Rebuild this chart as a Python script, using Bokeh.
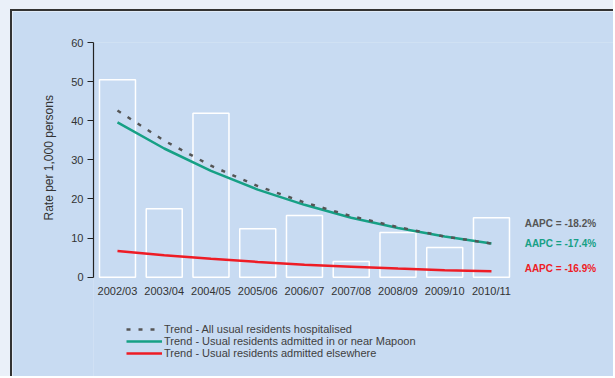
import numpy as np
from bokeh.plotting import figure
from bokeh.layouts import column
from bokeh.models import Range1d, FixedTicker, Legend, LegendItem, Label, Title
from bokeh.embed import file_html
from bokeh.resources import INLINE

categories = ["2002/03", "2003/04", "2004/05", "2005/06", "2006/07",
              "2007/08", "2008/09", "2009/10", "2010/11"]
rates = [50.5, 17.5, 41.9, 12.4, 15.8, 4.0, 11.4, 7.6, 15.2]
trend_all = [42.6, 34.9, 28.5, 23.3, 19.1, 15.6, 12.8, 10.4, 8.6]
trend_near = [39.6, 32.9, 27.2, 22.4, 18.5, 15.2, 12.6, 10.4, 8.6]
trend_else = [6.7, 5.6, 4.7, 3.9, 3.2, 2.7, 2.2, 1.8, 1.5]
aapc_labels = ["AAPC = -18.2%", "AAPC = -17.4%", "AAPC = -16.9%"]
aapc_y = [13.7, 8.5, 2.1]
legend_labels = ["Trend - All usual residents hospitalised",
                 "Trend - Usual residents admitted in or near Mapoon",
                 "Trend - Usual residents admitted elsewhere"]
y_title = "Rate per 1,000 persons"
y_ticks = [0, 10, 20, 30, 40, 50, 60]

x = list(range(len(categories)))

PANEL = "#C8DBF2"
GREEN = "#16A085"
RED = "#EE1C25"
GREY = "#555555"
FONT = "Liberation Sans"

p = figure(width=603, height=367, output_backend="svg", toolbar_location=None,
           x_range=Range1d(-0.513, 10.653), y_range=Range1d(-25.9, 60),
           min_border_left=81, min_border_right=0, min_border_top=31,
           min_border_bottom=0)
p.styles = {"margin-left": "10px", "margin-top": "9px",
            "border-left": "2px solid #333", "border-top": "2px solid #333"}
p.background_fill_color = PANEL
p.border_fill_color = PANEL
p.outline_line_color = None
p.grid.visible = False

p.vbar(x=x, top=rates, bottom=0, width=0.77, fill_color=None,
       line_color="white", line_width=1.5)
r_near = p.line(x, trend_near, line_color=GREEN, line_width=2.5)
r_else = p.line(x, trend_else, line_color=RED, line_width=2.5)
r_all = p.line(x, trend_all, line_color=GREY, line_width=2.5, line_dash="4 8")

# x axis fixed at y = 0
p.xaxis.fixed_location = 0
p.xaxis.ticker = FixedTicker(ticks=x)
p.xaxis.major_label_overrides = {i: c for i, c in zip(x, categories)}
p.xaxis.axis_line_color = None
p.xaxis.major_tick_line_color = None
p.xaxis.minor_tick_line_color = None
p.xaxis.major_tick_out = 0
p.xaxis.major_label_standoff = 8
p.xaxis.major_label_text_font = FONT
p.xaxis.major_label_text_font_size = "11px"
p.xaxis.major_label_text_color = "#333333"

p.yaxis.bounds = (0, 60)
p.yaxis.ticker = FixedTicker(ticks=y_ticks)
p.yaxis.axis_line_color = "#222222"
p.yaxis.axis_line_width = 1.2
p.yaxis.major_tick_line_color = "#222222"
p.yaxis.major_tick_out = 6
p.yaxis.major_tick_in = 0
p.yaxis.minor_tick_line_color = None
p.yaxis.major_label_standoff = 4
p.yaxis.major_label_text_font = FONT
p.yaxis.major_label_text_font_size = "11px"
p.yaxis.major_label_text_color = "#333333"

# y axis title as a side title so it can sit beside the 0-60 span
p.add_layout(Title(text=y_title, align="left", offset=158, standoff=25,
                   text_font=FONT, text_font_size="12px",
                   text_font_style="normal", text_color="#333333"), "left")

for txt, yy, col in zip(aapc_labels, aapc_y, [GREY, GREEN, RED]):
    p.add_layout(Label(x=len(categories) - 1 + 0.71, y=yy, text=txt,
                       text_font=FONT, text_font_size="10px",
                       text_font_style="bold", text_color=col,
                       text_baseline="middle"))

legend = Legend(items=[LegendItem(label=legend_labels[0], renderers=[r_all]),
                       LegendItem(label=legend_labels[1], renderers=[r_near]),
                       LegendItem(label=legend_labels[2], renderers=[r_else])],
                location=(33, 19), orientation="vertical",
                padding=0, margin=0, spacing=0, label_height=12,
                glyph_height=12, glyph_width=36, label_standoff=2,
                border_line_color=None, background_fill_alpha=0,
                label_text_font=FONT, label_text_font_size="11px",
                label_text_color="#404040")
p.add_layout(legend, "center")

layout = column(p, styles={"background-color": "#EAF0F9"})

open("out.html", "w").write(file_html(layout, INLINE))
